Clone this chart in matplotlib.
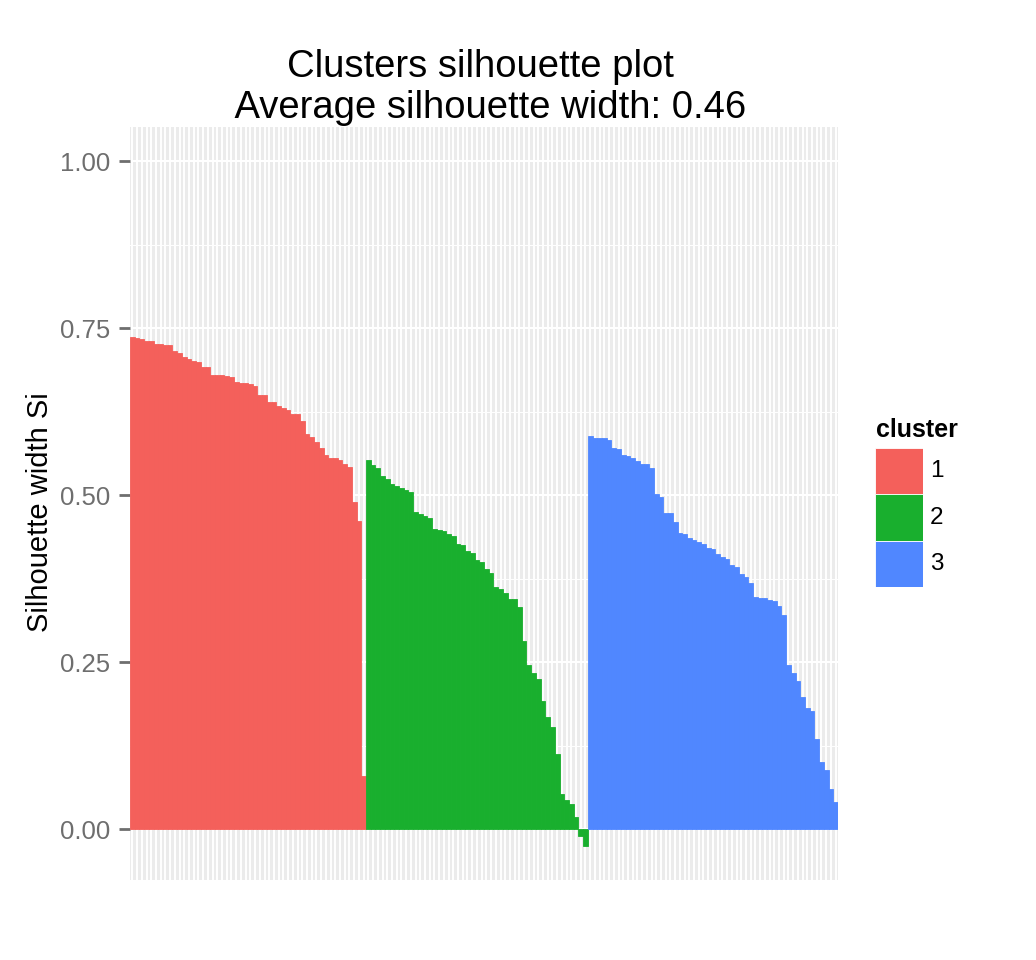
import numpy as np
import matplotlib
matplotlib.use("Agg")
import matplotlib.pyplot as plt
from matplotlib.ticker import MultipleLocator, FixedLocator

plt.rcParams['font.family'] = ['Liberation Sans', 'DejaVu Sans']

# silhouette widths, sorted within each cluster
sil_c1 = [0.736, 0.735, 0.733, 0.730, 0.730, 0.726, 0.726, 0.724, 0.724, 0.716,
          0.712, 0.707, 0.704, 0.701, 0.699, 0.691, 0.691, 0.680, 0.680, 0.679,
          0.678, 0.676, 0.669, 0.668, 0.668, 0.666, 0.664, 0.650, 0.650, 0.639,
          0.639, 0.633, 0.630, 0.627, 0.622, 0.622, 0.611, 0.591, 0.587, 0.580,
          0.570, 0.560, 0.555, 0.555, 0.552, 0.547, 0.542, 0.489, 0.461, 0.080]
sil_c2 = [0.552, 0.545, 0.540, 0.529, 0.524, 0.517, 0.514, 0.510, 0.507, 0.504,
          0.475, 0.472, 0.469, 0.465, 0.449, 0.448, 0.446, 0.442, 0.438, 0.427,
          0.425, 0.416, 0.413, 0.403, 0.400, 0.389, 0.383, 0.363, 0.360, 0.353,
          0.344, 0.344, 0.333, 0.281, 0.245, 0.234, 0.224, 0.191, 0.168, 0.153,
          0.112, 0.053, 0.043, 0.038, 0.018, -0.011, -0.025]
sil_c3 = [0.588, 0.586, 0.586, 0.585, 0.582, 0.571, 0.569, 0.560, 0.558, 0.555,
          0.551, 0.546, 0.546, 0.541, 0.502, 0.497, 0.473, 0.473, 0.460, 0.443,
          0.441, 0.436, 0.433, 0.429, 0.427, 0.421, 0.419, 0.412, 0.407, 0.405,
          0.395, 0.392, 0.382, 0.377, 0.368, 0.348, 0.346, 0.346, 0.343, 0.341,
          0.334, 0.320, 0.245, 0.233, 0.222, 0.198, 0.181, 0.177, 0.135, 0.100,
          0.089, 0.060, 0.040]
clusters = ['1', '2', '3']
colors = ['#F4605B', '#19AF2E', '#5087FF']
yticks = [0.0, 0.25, 0.5, 0.75, 1.0]
ytick_labels = ['0.00', '0.25', '0.50', '0.75', '1.00']

W, H = 1036, 960
fig = plt.figure(figsize=(W / 100, H / 100), dpi=100)
ax = fig.add_axes([130 / W, 1 - 880 / H, (838 - 130) / W, (880 - 127) / H])
ax.set_facecolor('#EBEBEB')
for s in ax.spines.values():
    s.set_visible(False)

n_total = len(sil_c1) + len(sil_c2) + len(sil_c3)
start = 0
for vals, col in zip([sil_c1, sil_c2, sil_c3], colors):
    x = np.arange(start, start + len(vals))
    ax.bar(x, vals, width=1.0, color=col, edgecolor=col, linewidth=0.6, zorder=3)
    start += len(vals)

ax.set_xlim(-0.5, n_total - 0.5)
ax.set_ylim(-0.0763, 1.051)

# grid: one white line per observation, plus major/minor horizontal lines
ax.xaxis.set_major_locator(FixedLocator(np.arange(n_total)))
ax.yaxis.set_major_locator(FixedLocator(yticks))
ax.yaxis.set_minor_locator(MultipleLocator(0.125))
ax.grid(True, which='major', axis='x', color='white', linewidth=1.4, zorder=1)
ax.grid(True, which='major', axis='y', color='white', linewidth=1.5, zorder=1)
ax.grid(True, which='minor', axis='y', color='white', linewidth=0.7, zorder=1)
ax.set_axisbelow(True)

ax.set_yticklabels(ytick_labels)
ax.tick_params(axis='y', which='major', length=8, width=2.0, color='#6E6E6E',
               labelcolor='#6E6E6E', labelsize=18.5, pad=6)
ax.tick_params(axis='y', which='minor', length=0)
ax.tick_params(axis='x', which='both', length=0, labelbottom=False)

fig.text(486 / W, 1 - 118 / H,
         'Clusters silhouette plot \n Average silhouette width: 0.46',
         ha='center', va='baseline', fontsize=27.5, linespacing=1.18)
fig.text(40 / W, 1 - 512 / H, 'Silhouette width Si', rotation=90,
         ha='center', va='center', fontsize=21)

# legend drawn as a small stacked key
lax = fig.add_axes([875 / W, 1 - 587 / H, 48 / W, (587 - 448) / H])
key_y = np.arange(len(clusters))[::-1]
lax.barh(key_y, [1] * len(clusters), height=1.0, color=colors,
         edgecolor='white', linewidth=0.6)
lax.set_xlim(0, 1)
lax.set_ylim(-0.5, len(clusters) - 0.5)
lax.axis('off')
for yk, lab in zip(key_y, clusters):
    lax.text(1.15, yk, lab, ha='left', va='center', fontsize=17.5)
lax.text(0.02, len(clusters) - 0.5 + 0.24, 'cluster', ha='left',
         va='baseline', fontsize=18, fontweight='bold')

fig.savefig('out.png', dpi=100)
